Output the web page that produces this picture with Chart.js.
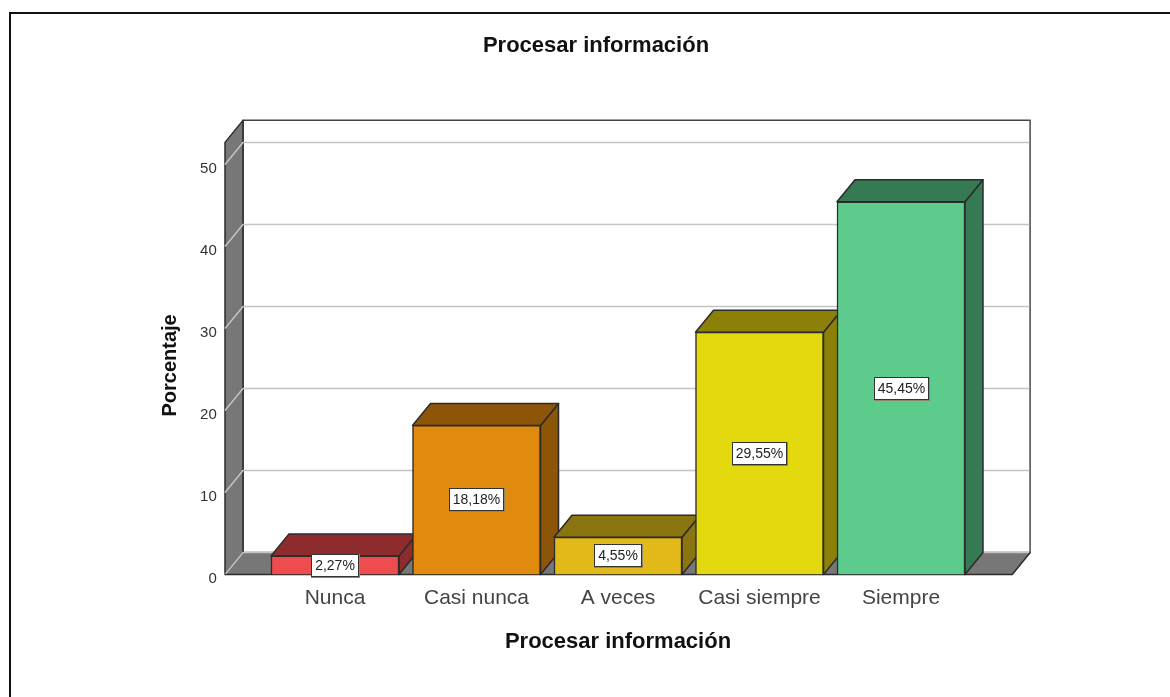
<!DOCTYPE html>
<html lang="es">
<head>
<meta charset="utf-8">
<title>Procesar información</title>
<script src="https://cdn.jsdelivr.net/npm/chart.js@4"></script>
<style>
  html, body { margin: 0; padding: 0; background: #fff; overflow: hidden; }
  #wrap { position: absolute; left: 0; top: 0; width: 1170px; height: 697px; }
  #frame { position: absolute; left: 9px; top: 12px; right: 0; bottom: 0;
           border-left: 2px solid #111; border-top: 2px solid #111; pointer-events: none; }
</style>
</head>
<body>
<div id="wrap">
  <canvas id="chart" width="1170" height="697"></canvas>
  <div id="frame"></div>
</div>
<script>
const categories = ['Nunca', 'Casi nunca', 'A veces', 'Casi siempre', 'Siempre'];
const percentages = [2.27, 18.18, 4.55, 29.55, 45.45];
const frontColors = ['#EF4C50', '#E08A0E', '#E3B91A', '#E4D90F', '#5CCB8C'];
const depthColors = ['#8E2B2D', '#8C5508', '#8A7510', '#8C8009', '#357A53'];
const chartTitle = 'Procesar información';
const yAxisTitle = 'Porcentaje';
const xAxisTitle = 'Procesar información';

// Extrusion of the box: how far the back plane sits from the front plane.
const DEPTH_X = 18;
const DEPTH_Y = 22;
const WALL_TOP_VALUE = 52.7;   // scale value reached by the front edge of the side wall
const FLOOR_MARGIN_LEFT = 39.25;   // floor overhang on each side of the category band
const FLOOR_MARGIN_RIGHT = 40.5;
const TITLE_CENTER_X = 596;
const EDGE = '#2b2b2b';

function poly(ctx, pts, fill, stroke, width) {
  ctx.beginPath();
  pts.forEach((p, i) => (i ? ctx.lineTo(p[0], p[1]) : ctx.moveTo(p[0], p[1])));
  ctx.closePath();
  if (fill) { ctx.fillStyle = fill; ctx.fill(); }
  if (stroke) { ctx.strokeStyle = stroke; ctx.lineWidth = width; ctx.lineJoin = 'round'; ctx.stroke(); }
}

const box3d = {
  id: 'box3d',
  // The title is centred on the whole frame rather than on the plot region.
  afterLayout(chart) {
    chart.titleBlock.left = 0;
    chart.titleBlock.right = TITLE_CENTER_X * 2;
  },
  // Walls, floor and gridlines behind the bars, then the side and top faces of each bar.
  beforeDatasetsDraw(chart) {
    const { ctx, chartArea: a, scales: { y } } = chart;
    const l = a.left - FLOOR_MARGIN_LEFT, r = a.right + FLOOR_MARGIN_RIGHT;
    const b = y.getPixelForValue(0), t = y.getPixelForValue(WALL_TOP_VALUE);
    ctx.save();
    poly(ctx, [[l + DEPTH_X, t - DEPTH_Y], [r + DEPTH_X, t - DEPTH_Y], [r + DEPTH_X, b - DEPTH_Y], [l + DEPTH_X, b - DEPTH_Y]], '#fff', '#444', 1.5);
    poly(ctx, [[l, t], [l + DEPTH_X, t - DEPTH_Y], [l + DEPTH_X, b - DEPTH_Y], [l, b]], '#777', EDGE, 1.5);
    poly(ctx, [[l, b], [l + DEPTH_X, b - DEPTH_Y], [r + DEPTH_X, b - DEPTH_Y], [r, b]], '#777', null);

    ctx.strokeStyle = '#c4c4c4';
    ctx.lineWidth = 1.5;
    y.ticks.forEach(tick => {
      const py = y.getPixelForValue(tick.value);
      ctx.beginPath();
      ctx.moveTo(l, py);
      ctx.lineTo(l + DEPTH_X, py - DEPTH_Y);
      ctx.lineTo(r + DEPTH_X, py - DEPTH_Y);
      ctx.stroke();
    });
    // Redraw the edges the gridlines run into.
    ctx.beginPath();
    ctx.moveTo(r + DEPTH_X, t - DEPTH_Y);
    ctx.lineTo(r + DEPTH_X, b - DEPTH_Y);
    ctx.strokeStyle = '#666';
    ctx.stroke();
    ctx.beginPath();
    ctx.moveTo(r + DEPTH_X, b - DEPTH_Y);
    ctx.lineTo(r, b);
    ctx.lineTo(l, b);
    ctx.strokeStyle = EDGE;
    ctx.stroke();

    chart.getDatasetMeta(0).data.forEach((bar, i) => {
      const p = bar.getProps(['x', 'y', 'base', 'width'], true);
      const x0 = p.x - p.width / 2, x1 = p.x + p.width / 2;
      poly(ctx, [[x1, p.y], [x1 + DEPTH_X, p.y - DEPTH_Y], [x1 + DEPTH_X, p.base - DEPTH_Y], [x1, p.base]], depthColors[i], EDGE, 1.5);
      poly(ctx, [[x0, p.y], [x0 + DEPTH_X, p.y - DEPTH_Y], [x1 + DEPTH_X, p.y - DEPTH_Y], [x1, p.y]], depthColors[i], EDGE, 1.5);
    });
    ctx.restore();
  },
  // Boxed percentage label at the middle of each bar's front face.
  afterDatasetsDraw(chart) {
    const { ctx } = chart;
    ctx.save();
    ctx.font = '14px "Liberation Sans"';
    ctx.textAlign = 'center';
    ctx.textBaseline = 'middle';
    chart.getDatasetMeta(0).data.forEach((bar, i) => {
      const p = bar.getProps(['x', 'y', 'base'], true);
      const cy = (p.y + p.base) / 2;
      const text = percentages[i].toFixed(2).replace('.', ',') + '%';
      const w = Math.round(ctx.measureText(text).width) + 8, h = 23;
      const bx = Math.round(p.x - w / 2), by = Math.round(cy - h / 2);
      ctx.fillStyle = '#8a8a6a';
      ctx.fillRect(bx, by, w + 1, h + 1);
      ctx.fillStyle = '#fff';
      ctx.strokeStyle = '#333';
      ctx.lineWidth = 1;
      ctx.fillRect(bx, by, w, h);
      ctx.strokeRect(bx + 0.5, by + 0.5, w - 1, h - 1);
      ctx.fillStyle = '#222';
      ctx.fillText(text, bx + w / 2, by + h / 2 + 1);
    });
    ctx.restore();
  }
};

new Chart(document.getElementById('chart'), {
  type: 'bar',
  data: {
    labels: categories,
    datasets: [{
      data: percentages,
      backgroundColor: frontColors,
      borderColor: EDGE,
      borderWidth: 1.5,
      barThickness: 128
    }]
  },
  plugins: [box3d],
  options: {
    responsive: false,
    animation: false,
    layout: { padding: { left: 0, right: 198.25, top: 0, bottom: 0 } },
    plugins: {
      legend: { display: false },
      tooltip: { enabled: false },
      title: {
        display: true,
        text: chartTitle,
        color: '#111',
        font: { family: '"Liberation Sans"', size: 22, weight: 'bold' },
        padding: { top: 33, bottom: 96.9 }
      }
    },
    scales: {
      x: {
        grid: { display: false },
        border: { display: false },
        ticks: {
          color: '#444',
          font: { family: '"Liberation Sans"', size: 21 },
          padding: 3,
          maxRotation: 0,
          autoSkip: false
        },
        title: {
          display: true,
          text: xAxisTitle,
          color: '#111',
          font: { family: '"Liberation Sans"', size: 22, weight: 'bold' },
          padding: { top: 0, bottom: 42 }
        },
        afterFit(scale) { scale.height = 122.5; }
      },
      y: {
        min: 0,
        max: 51,
        grid: { display: false, drawTicks: false },
        border: { display: false },
        ticks: {
          stepSize: 10,
          includeBounds: false,
          color: '#333',
          font: { family: '"Liberation Sans"', size: 15 },
          padding: 47.5,
          labelOffset: 4
        },
        title: {
          display: true,
          text: yAxisTitle,
          color: '#111',
          font: { family: '"Liberation Sans"', size: 20, weight: 'bold' },
          padding: { top: 158, bottom: 0 }
        },
        afterFit(scale) { scale.width = 264.25; }
      }
    }
  }
});
</script>
</body>
</html>
